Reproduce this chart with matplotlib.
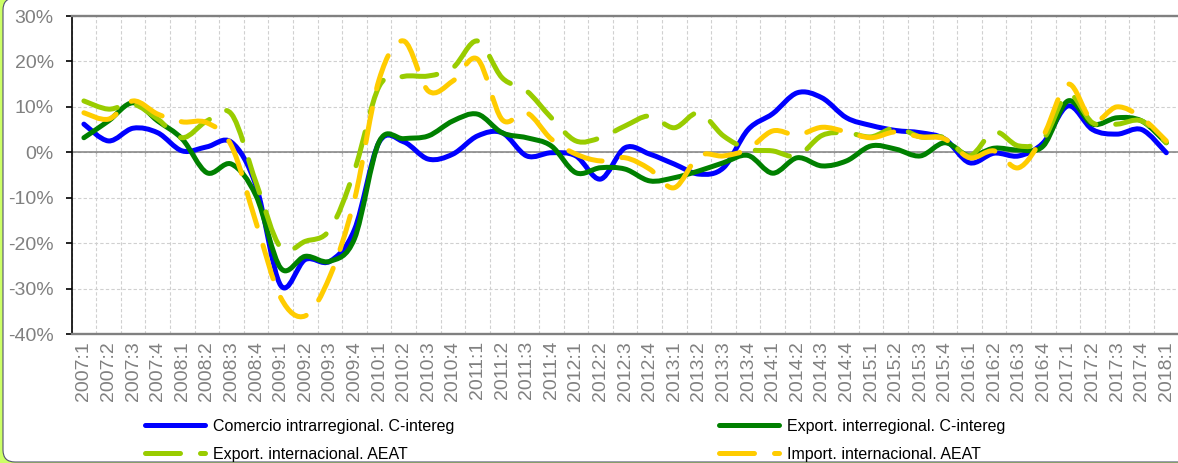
import numpy as np
import matplotlib
matplotlib.use('Agg')
import matplotlib.pyplot as plt
from matplotlib.path import Path
from matplotlib.patches import PathPatch, FancyBboxPatch
from matplotlib.lines import Line2D

plt.rcParams['font.family'] = ['Liberation Sans', 'DejaVu Sans']

quarters = [f"{y}:{q}" for y in range(2007, 2019) for q in range(1, 5)][:45]

comercio_intra = [6.2, 2.5, 5.3, 4.3, 0.3, 1.2, 2.2, -7.4, -29.3, -23.6, -24.0, -17.0,
                  2.2, 2.3, -1.5, -0.4, 3.6, 4.3, -0.8, -0.1, -0.8, -5.9, 1.0, -0.4,
                  -2.6, -4.8, -3.4, 5.0, 8.5, 13.1, 12.0, 7.6, 5.9, 4.8, 4.3, 2.9,
                  -2.3, -0.2, -0.8, 2.1, 10.2, 5.0, 4.0, 5.0, -0.1]
export_inter = [3.2, 6.9, 10.9, 6.9, 2.9, -4.5, -2.6, -9.6, -25.5, -22.9, -24.0, -19.0,
                2.3, 3.0, 3.6, 6.9, 8.4, 4.3, 3.2, 1.4, -4.5, -3.4, -3.7, -6.3,
                -5.6, -4.1, -2.3, -0.7, -4.6, -1.2, -3.0, -1.9, 1.4, 0.7, -0.8, 2.1,
                -0.8, 0.9, 0.5, 1.4, 11.3, 6.2, 7.6, 6.9, 2.1]
export_aeat = [11.3, 9.5, 10.6, 7.3, 3.2, 6.9, 8.4, -6.7, -21.0, -19.6, -17.0, -4.0,
               14.5, 16.7, 16.8, 18.6, 24.5, 16.4, 13.5, 7.6, 2.5, 3.2, 5.8, 8.0,
               5.4, 8.7, 3.6, 0.7, 0.3, -0.8, 3.7, 4.3, 3.4, 5.4, 3.4, 3.2,
               -0.8, 4.5, 1.4, 2.9, 12.8, 6.5, 6.2, 6.9, 2.1]
import_aeat = [8.7, 7.3, 11.3, 8.4, 6.7, 6.5, 1.4, -15.5, -32.0, -36.0, -27.3, -10.4,
               16.0, 24.5, 13.5, 15.7, 20.5, 7.2, 8.7, 2.9, -0.4, -1.9, -1.2, -3.7,
               -7.8, -0.8, -0.8, 0.7, 4.7, 3.8, 5.5, 4.5, 3.2, 4.5, 3.4, 2.9,
               -1.2, 0.3, -3.4, 3.6, 15.0, 6.9, 10.0, 7.6, 2.5]

series_names = ["Comercio intrarregional. C-intereg", "Export. interregional. C-intereg",
                "Export. internacional. AEAT", "Import. internacional. AEAT"]


def smooth_path(y):
    # curva suavizada tipo Excel (Bezier a partir de los puntos)
    pts = np.column_stack([np.arange(len(y)), y]).astype(float)
    n = len(pts)
    verts = [pts[0]]
    codes = [Path.MOVETO]
    for i in range(n - 1):
        p0 = pts[i - 1] if i > 0 else pts[i]
        p1, p2 = pts[i], pts[i + 1]
        p3 = pts[i + 2] if i + 2 < n else pts[i + 1]
        verts += [p1 + (p2 - p0) / 6, p2 - (p3 - p1) / 6, p2]
        codes += [Path.CURVE4] * 3
    return Path(verts, codes)


W, H = 1178, 463
fig = plt.figure(figsize=(W / 100, H / 100), dpi=100, facecolor='#CCFF66')

bg = fig.add_axes([0, 0, 1, 1], zorder=-1)
bg.set_xlim(0, W)
bg.set_ylim(H, 0)
bg.axis('off')
bg.add_patch(FancyBboxPatch((3, -2), 1300, 464, boxstyle='round,pad=0,rounding_size=12',
                            fc='white', ec='#505070', lw=0.8))

ax = fig.add_axes([71.6 / W, 1 - 334 / H, 1107 / W, 318 / H])
ax.set_xlim(-0.5, 44.5)
ax.set_ylim(-40, 30)

gray = '#808080'
ax.set_yticks(range(-40, 31, 10))
ax.set_yticklabels([f"{v}%" for v in range(-40, 31, 10)])
ax.set_xticks(range(len(quarters)))
ax.set_xticklabels(quarters, rotation=90)
ax.set_xticks(np.arange(-0.5, len(quarters), 1), minor=True)
ax.grid(which='minor', axis='x', color='#d0d0d0', lw=0.8, ls=(0, (3, 2)))
ax.grid(which='major', axis='y', color='#d0d0d0', lw=0.8, ls=(0, (3, 2)))
ax.tick_params(axis='x', which='both', length=0, labelcolor=gray, labelsize=14, pad=5)
ax.tick_params(axis='y', length=4.3, width=1.2, color='black', labelcolor=gray,
               labelsize=14, pad=8.6)
ax.spines['right'].set_visible(False)
ax.spines['top'].set_color(gray)
ax.spines['top'].set_linewidth(1.7)
ax.spines['bottom'].set_color(gray)
ax.spines['bottom'].set_linewidth(1.7)
ax.spines['left'].set_linewidth(1.2)
ax.set_axisbelow(True)

# eje de categorias en el 0%
ax.axhline(0, color=gray, lw=1.1, zorder=1.5)
sec = ax.secondary_xaxis(4 / 7)
sec.set_xticks(np.arange(-0.5, len(quarters), 1))
sec.tick_params(direction='in', length=3, color=gray, labeltop=False, labelbottom=False)
sec.spines['top'].set_visible(False)

colors = ['#0000FF', '#008000', '#99CC00', '#FFCC00']
styles = ['-', '-', (0, (7, 4)), (0, (7, 4))]
data = [comercio_intra, export_inter, export_aeat, import_aeat]
handles = []
for vals, c, st, name in zip(data, colors, styles, series_names):
    ax.add_patch(PathPatch(smooth_path(vals), fill=False, ec=c, lw=3.6, ls=st,
                           capstyle='round', joinstyle='round', zorder=2))
    handles.append(Line2D([], [], color=c, lw=3.6, ls=st, solid_capstyle='round',
                          dash_capstyle='round', label=name))

leg_kw = dict(loc='upper left', frameon=False, fontsize=11.5, handlelength=3.8,
              handletextpad=0.47, borderpad=0, borderaxespad=0, labelspacing=0.8)
fig.legend(handles=[handles[0], handles[2]], bbox_to_anchor=(144.5 / W, 1 - 419 / H), **leg_kw)
fig.legend(handles=[handles[1], handles[3]], bbox_to_anchor=(718.5 / W, 1 - 419 / H), **leg_kw)

fig.savefig('out.png', dpi=100, facecolor=fig.get_facecolor())
